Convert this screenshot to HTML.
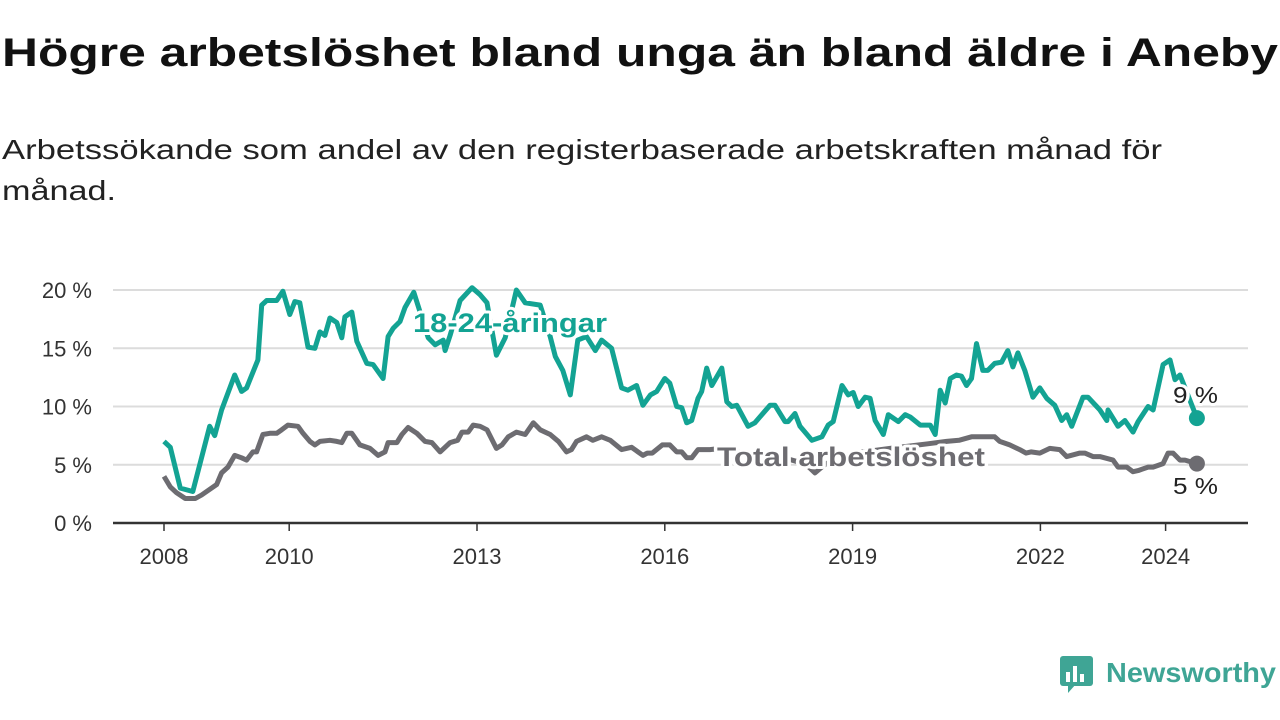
<!DOCTYPE html>
<html><head><meta charset="utf-8"><style>
html,body{margin:0;padding:0;background:#fff;}
svg{display:block;font-family:"Liberation Sans","DejaVu Sans",sans-serif;}
</style></head><body>
<svg id="chart" width="1280" height="720" viewBox="0 0 1280 720">
<text x="2" y="66" font-size="40" font-weight="bold" fill="#111" textLength="1276" lengthAdjust="spacingAndGlyphs">Högre arbetslöshet bland unga än bland äldre i Aneby</text>
<text x="2" y="159" font-size="28" fill="#222" textLength="1160" lengthAdjust="spacingAndGlyphs">Arbetssökande som andel av den registerbaserade arbetskraften månad för</text>
<text x="2" y="200" font-size="28" fill="#222" textLength="114" lengthAdjust="spacingAndGlyphs">månad.</text>
<g id="grid"></g><g id="xaxis"></g><g id="series"></g><g id="labels"></g>
<g>
<rect x="1060" y="656" width="33" height="30" rx="3" fill="#3fa595"/>
<path d="M1068 693 L1068 684 L1076 684 Z" fill="#3fa595"/>
<rect x="1066" y="672" width="4" height="10" fill="#fff"/><rect x="1073" y="666" width="4" height="16" fill="#fff"/><rect x="1080" y="674" width="4" height="8" fill="#fff"/>
<text x="1106" y="682" font-size="28" font-weight="bold" fill="#3fa595" textLength="170" lengthAdjust="spacingAndGlyphs">Newsworthy</text>
</g>
</svg>
<script>
const yTicks=[0,5,10,15,20];
const xTicks=[2008,2010,2013,2016,2019,2022,2024];
const youthT=[2008.0,2008.1,2008.26,2008.46,2008.73,2008.81,2008.92,2009.13,2009.24,2009.32,2009.5,2009.56,2009.64,2009.8,2009.9,2010.01,2010.09,2010.17,2010.3,2010.41,2010.49,2010.57,2010.65,2010.76,2010.84,2010.89,2011.0,2011.08,2011.24,2011.34,2011.5,2011.58,2011.66,2011.77,2011.85,2011.99,2012.22,2012.33,2012.46,2012.49,2012.57,2012.73,2012.92,2013.05,2013.16,2013.31,2013.45,2013.63,2013.77,2014.01,2014.17,2014.25,2014.37,2014.49,2014.61,2014.75,2014.89,2014.99,2015.15,2015.31,2015.41,2015.55,2015.65,2015.77,2015.87,2016.0,2016.08,2016.19,2016.27,2016.35,2016.43,2016.53,2016.59,2016.67,2016.75,2016.91,2016.99,2017.07,2017.15,2017.33,2017.44,2017.55,2017.68,2017.76,2017.92,2017.97,2018.08,2018.16,2018.24,2018.35,2018.51,2018.61,2018.69,2018.83,2018.93,2019.01,2019.09,2019.2,2019.28,2019.36,2019.49,2019.57,2019.73,2019.84,2019.92,2020.08,2020.24,2020.32,2020.4,2020.48,2020.56,2020.66,2020.74,2020.82,2020.9,2020.98,2021.08,2021.16,2021.27,2021.38,2021.48,2021.56,2021.64,2021.75,2021.88,2021.99,2022.1,2022.23,2022.34,2022.42,2022.5,2022.68,2022.76,2022.9,2022.95,2023.06,2023.08,2023.24,2023.35,2023.48,2023.56,2023.72,2023.8,2023.96,2024.07,2024.15,2024.23,2024.5];
const youthV=[7.0,6.5,3.0,2.7,8.3,7.5,9.7,12.7,11.3,11.6,14.0,18.7,19.1,19.1,19.9,17.9,19.0,18.9,15.1,15.0,16.4,16.1,17.6,17.2,15.9,17.7,18.1,15.6,13.7,13.6,12.4,16.0,16.7,17.3,18.5,19.8,15.9,15.3,15.7,14.8,16.1,19.1,20.2,19.6,18.9,14.4,15.9,20.0,18.9,18.7,16.0,14.3,13.1,11.0,15.7,16.0,14.8,15.7,15.0,11.6,11.4,11.8,10.1,11.0,11.3,12.4,12.0,10.0,9.9,8.6,8.8,10.7,11.3,13.3,11.8,13.3,10.4,10.0,10.1,8.3,8.6,9.3,10.1,10.1,8.7,8.7,9.4,8.3,7.8,7.1,7.4,8.4,8.7,11.8,11.0,11.2,10.0,10.8,10.7,8.8,7.6,9.3,8.7,9.3,9.1,8.4,8.4,7.6,11.4,10.3,12.4,12.7,12.6,11.8,12.4,15.4,13.1,13.1,13.7,13.8,14.8,13.4,14.6,13.1,10.8,11.6,10.7,10.1,8.8,9.3,8.3,10.8,10.8,10.0,9.7,8.8,9.7,8.3,8.8,7.8,8.7,10.0,9.7,13.6,14.0,12.3,12.7,9.0];
const totalT=[2008.0,2008.1,2008.2,2008.34,2008.5,2008.6,2008.84,2008.92,2009.02,2009.13,2009.24,2009.32,2009.42,2009.48,2009.58,2009.69,2009.8,2009.88,2009.98,2010.14,2010.22,2010.33,2010.41,2010.49,2010.65,2010.76,2010.84,2010.92,2011.0,2011.13,2011.29,2011.42,2011.53,2011.58,2011.72,2011.8,2011.9,2012.04,2012.17,2012.28,2012.41,2012.57,2012.69,2012.76,2012.86,2012.94,2013.05,2013.16,2013.31,2013.4,2013.5,2013.63,2013.77,2013.9,2014.01,2014.17,2014.3,2014.43,2014.51,2014.59,2014.75,2014.85,2014.99,2015.13,2015.31,2015.47,2015.65,2015.72,2015.8,2015.96,2016.08,2016.19,2016.27,2016.35,2016.43,2016.53,2016.72,2016.9,2017.1,2017.3,2017.5,2017.7,2017.9,2018.1,2018.3,2018.4,2018.55,2018.75,2019.0,2019.3,2019.6,2019.9,2020.2,2020.5,2020.7,2020.9,2021.08,2021.27,2021.35,2021.51,2021.67,2021.77,2021.85,2021.99,2022.15,2022.31,2022.42,2022.63,2022.71,2022.84,2022.95,2023.16,2023.24,2023.38,2023.48,2023.56,2023.72,2023.8,2023.96,2024.04,2024.12,2024.23,2024.31,2024.5];
const totalV=[4.0,3.1,2.6,2.1,2.1,2.4,3.3,4.3,4.8,5.8,5.6,5.4,6.1,6.1,7.6,7.7,7.7,8.0,8.4,8.3,7.7,7.0,6.7,7.0,7.1,7.0,6.9,7.7,7.7,6.7,6.4,5.8,6.1,6.9,6.9,7.6,8.2,7.7,7.0,6.9,6.1,6.9,7.1,7.8,7.8,8.4,8.3,8.0,6.4,6.7,7.4,7.8,7.6,8.6,8.0,7.6,7.0,6.1,6.3,7.0,7.4,7.1,7.4,7.1,6.3,6.5,5.8,6.0,6.0,6.7,6.7,6.1,6.1,5.6,5.6,6.3,6.3,6.4,6.2,6.0,5.9,5.7,5.6,5.3,4.8,4.3,5.0,5.6,6.0,6.2,6.4,6.6,6.8,7.0,7.1,7.4,7.4,7.4,7.0,6.7,6.3,6.0,6.1,6.0,6.4,6.3,5.7,6.0,6.0,5.7,5.7,5.4,4.8,4.8,4.4,4.5,4.8,4.8,5.1,6.0,6.0,5.4,5.4,5.1,5.0];
const NS='http://www.w3.org/2000/svg';
const X0=113,X1=1248;
function xs(t){return 164+(t-2008)*62.6;}
function ys(v){return 523-v*11.65;}
function mk(tag,attrs,parent){const e=document.createElementNS(NS,tag);for(const k in attrs)e.setAttribute(k,attrs[k]);parent.appendChild(e);return e;}
const grid=document.getElementById('grid'),xa=document.getElementById('xaxis'),ser=document.getElementById('series'),lab=document.getElementById('labels');
yTicks.forEach(v=>{
 if(v>0){const l=mk('line',{x1:X0,x2:X1,y1:ys(v),y2:ys(v),stroke:'#dcdcdc','stroke-width':2},grid);
 
 }
 const t=mk('text',{x:92,y:ys(v)+8,'font-size':22,fill:'#333','text-anchor':'end'},grid);
 t.textContent=v+' %';
 
 
});
const ax=mk('line',{x1:X0,x2:X1,y1:523,y2:523,stroke:'#333','stroke-width':2.5},xa);


xTicks.forEach(yr=>{
 mk('line',{x1:xs(yr),x2:xs(yr),y1:523,y2:531,stroke:'#333','stroke-width':1.5},xa);
 const t=mk('text',{x:xs(yr),y:564,'font-size':22,fill:'#333','text-anchor':'middle'},xa);
 t.textContent=yr;
 
 
});
function line(T,V,col,name){
 const d=T.map((t,i)=>(i?'L':'M')+xs(t).toFixed(1)+' '+ys(V[i]).toFixed(1)).join(' ');
 const p=mk('path',{d:d,fill:'none',stroke:col,'stroke-width':5,'stroke-linejoin':'round'},ser);
 
 
 const n=T.length-1;
 const c=mk('circle',{cx:xs(T[n]),cy:ys(V[n]),r:8,fill:col},ser);
 
 
}
const TEAL='#13a393',GRAY='#6d6c71';
line(totalT,totalV,GRAY,'total-line');
line(youthT,youthV,TEAL,'youth-line');
function label(x,y,txt,col,size,w,bold,name){
 const a={x:x,y:y,'font-size':size,fill:col,textLength:w,lengthAdjust:'spacingAndGlyphs','stroke':'#fff','stroke-width':6,'paint-order':'stroke','stroke-linejoin':'round'};
 if(bold)a['font-weight']='bold';
 const t=mk('text',a,lab);
 t.textContent=txt;
 
 
}
label(413,332,'18-24-åringar',TEAL,27,194,true,'youth-series-label');
label(717,466,'Total arbetslöshet',GRAY,27,268,true,'total-series-label');
label(1173,403,'9 %','#222',23,45,false,'youth-end-value');
label(1173,494,'5 %','#222',23,45,false,'total-end-value');
</script>
</body></html>
